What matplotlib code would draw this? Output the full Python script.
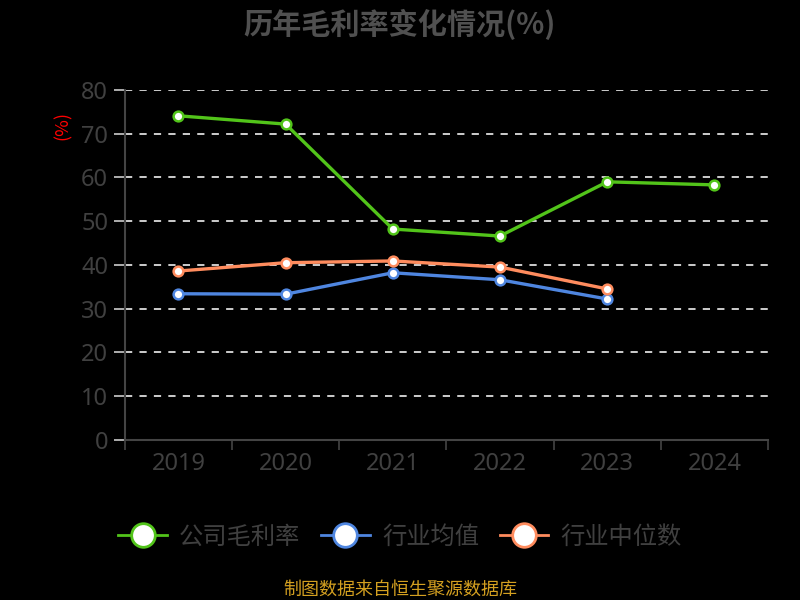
import numpy as np
from matplotlib import pyplot as plt
from matplotlib.lines import Line2D

plt.rcParams['font.family'] = ['Noto Sans CJK SC', 'DejaVu Sans']

# data
years = ["2019", "2020", "2021", "2022", "2023", "2024"]
company = [74.1, 72.2, 48.2, 46.6, 59.0, 58.3]
industry_avg = [33.4, 33.3, 38.2, 36.6, 32.2]
industry_median = [38.6, 40.5, 40.9, 39.5, 34.5]
series_names = ["公司毛利率", "行业均值", "行业中位数"]

green = "#52c41a"
blue = "#4f86e0"
orange = "#ff8c5e"
label_grey = "#404040"

fig = plt.figure(figsize=(8, 6), dpi=100, facecolor="black")
ax = fig.add_axes([0.156, 0.267, 0.804, 0.583], facecolor="black")

x = np.arange(len(years))
kw = dict(lw=2.4, marker="o", ms=7, mfc="white", mew=1.8, solid_capstyle="round")
ax.plot(x[:len(industry_avg)], industry_avg, color=blue, mec=blue, zorder=3, **kw)
ax.plot(x[:len(industry_median)], industry_median, color=orange, mec=orange, zorder=3, **kw)
ax.plot(x, company, color=green, mec=green, zorder=4, **kw)

ax.set_xlim(-0.5, len(years) - 0.5)
ax.set_ylim(0, 80)
ax.set_yticks(np.arange(0, 81, 10))
ax.set_xticks(x)
ax.set_xticklabels(years, family="Noto Sans")
ax.set_yticklabels([str(v) for v in range(0, 81, 10)], family="Noto Sans")
ax.set_xticks(np.arange(-0.5, len(years)), minor=True)
ax.tick_params(axis="x", which="major", length=0, pad=9, labelsize=17, labelcolor=label_grey)
ax.tick_params(axis="x", which="minor", length=7, width=1.2, color="#444444")
ax.tick_params(axis="y", length=8, width=1.2, color="#cccccc", pad=4, labelsize=17, labelcolor=label_grey)

# dashed grid lines
for v in range(10, 81, 10):
    ax.axhline(v, color="#dddddd", lw=1.3, ls=(0, (4, 4)), zorder=1)

for s in ["top", "right"]:
    ax.spines[s].set_visible(False)
ax.spines["left"].set_color("#444444")
ax.spines["bottom"].set_color("#444444")
ax.spines["left"].set_linewidth(1.5)
ax.spines["bottom"].set_linewidth(1.5)

fig.text(0.079, 0.79, "(%)", color="red", rotation=90, fontsize=13, ha="center", va="center")
fig.text(0.5, 0.96, "历年毛利率变化情况(%)", color="#505050", fontsize=21,
         fontweight="bold", ha="center", va="center")

handles = [Line2D([], [], color=c, lw=2, marker="o", ms=17, mfc="white", mec=c, mew=2)
           for c in [green, blue, orange]]
leg = fig.legend(handles, series_names, loc="center", bbox_to_anchor=(0.5, 0.105), ncol=3,
                 frameon=False, fontsize=17.5, handlelength=2.0, columnspacing=0.85, handletextpad=0.5)
for t in leg.get_texts():
    t.set_color(label_grey)

fig.text(0.5, 0.017, "制图数据来自恒生聚源数据库", color="#d4a020", fontsize=13, ha="center", va="center")

plt.savefig("out.png", dpi=100, facecolor="black")
